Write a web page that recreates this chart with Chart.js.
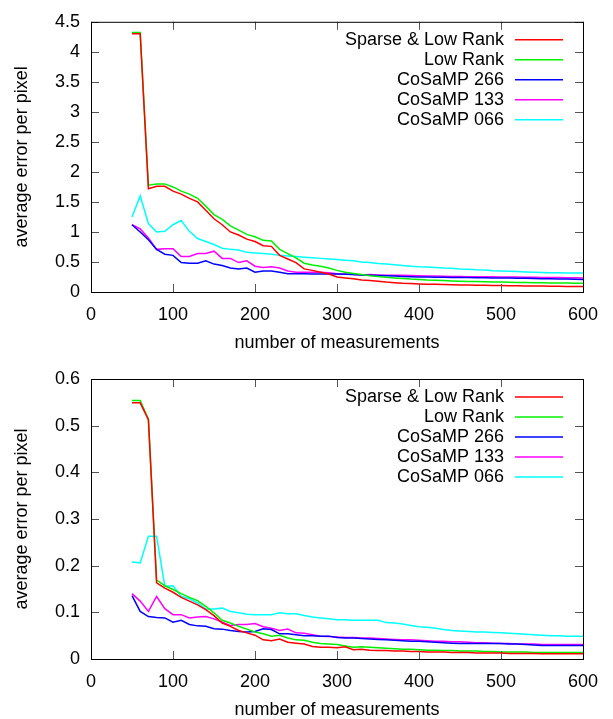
<!DOCTYPE html>
<html>
<head>
<meta charset="utf-8">
<script src="https://cdn.jsdelivr.net/npm/chart.js@4.4.1/dist/chart.umd.min.js"></script>
<style>
  html, body { margin: 0; padding: 0; background: #fff; overflow: hidden; }
  #wrap { position: relative; width: 613px; height: 719px; }
  canvas { position: absolute; left: 0; }
  #errTop { top: 0; }
  #errBottom { top: 354px; }
</style>
</head>
<body>
<div id="wrap">
  <canvas id="errTop" width="613" height="354"></canvas>
  <canvas id="errBottom" width="613" height="367"></canvas>
</div>
<script>
  // number of measurements (x values shared by every series)
  var measurements = [50, 60, 70, 80, 90, 100, 110, 120, 130, 140, 150, 160, 170, 180, 190, 200,
    210, 220, 230, 240, 250, 260, 270, 280, 290, 300, 310, 320, 330, 340, 350, 360, 370, 380, 390, 400,
    410, 420, 430, 440, 450, 460, 470, 480, 490, 500, 510, 520, 530, 540, 550, 560, 570, 580, 590, 600];

  var seriesNames = ['Sparse & Low Rank', 'Low Rank', 'CoSaMP 266', 'CoSaMP 133', 'CoSaMP 066'];
  var seriesColors = ['#ff0000', '#00f000', '#0000ff', '#ff00ff', '#00ffff'];

  var xTicks = [0, 100, 200, 300, 400, 500, 600];
  var yTicksTop = [0, 0.5, 1, 1.5, 2, 2.5, 3, 3.5, 4, 4.5];
  var yTicksBottom = [0, 0.1, 0.2, 0.3, 0.4, 0.5, 0.6];

  // top plot
  var topSparseLowRank = [4.30, 4.30, 1.72, 1.76, 1.76, 1.68, 1.63, 1.56, 1.50, 1.36, 1.22, 1.12, 1.00, 0.95, 0.88, 0.84,
    0.77, 0.76, 0.61, 0.55, 0.49, 0.385, 0.36, 0.33, 0.30, 0.25, 0.235, 0.22, 0.20, 0.19, 0.18, 0.165, 0.155, 0.145, 0.14, 0.134,
    0.13, 0.127, 0.124, 0.12, 0.118, 0.116, 0.114, 0.112, 0.11, 0.108, 0.106, 0.104, 0.102, 0.10, 0.098, 0.096, 0.094, 0.093, 0.092, 0.09];
  var topLowRank = [4.32, 4.32, 1.78, 1.80, 1.80, 1.75, 1.68, 1.63, 1.56, 1.43, 1.29, 1.21, 1.10, 1.03, 0.96, 0.92,
    0.86, 0.85, 0.71, 0.64, 0.57, 0.48, 0.45, 0.43, 0.40, 0.36, 0.33, 0.31, 0.29, 0.27, 0.26, 0.245, 0.235, 0.225, 0.215, 0.21,
    0.20, 0.195, 0.19, 0.185, 0.18, 0.176, 0.173, 0.17, 0.168, 0.165, 0.162, 0.16, 0.157, 0.155, 0.153, 0.151, 0.149, 0.148, 0.146, 0.145];
  var topCosamp266 = [1.12, 1.00, 0.87, 0.71, 0.63, 0.61, 0.49, 0.48, 0.48, 0.52, 0.465, 0.44, 0.40, 0.385, 0.40, 0.33,
    0.35, 0.35, 0.33, 0.305, 0.305, 0.305, 0.30, 0.30, 0.30, 0.30, 0.295, 0.29, 0.285, 0.28, 0.275, 0.27, 0.265, 0.26, 0.255, 0.25,
    0.25, 0.245, 0.245, 0.24, 0.24, 0.24, 0.238, 0.236, 0.235, 0.235, 0.232, 0.23, 0.228, 0.225, 0.222, 0.22, 0.218, 0.215, 0.212, 0.21];
  var topCosamp133 = [1.12, 1.05, 0.90, 0.71, 0.72, 0.72, 0.59, 0.59, 0.64, 0.64, 0.68, 0.56, 0.56, 0.49, 0.52, 0.43,
    0.41, 0.42, 0.40, 0.35, 0.33, 0.33, 0.33, 0.33, 0.32, 0.305, 0.30, 0.29, 0.285, 0.29, 0.285, 0.28, 0.28, 0.278, 0.275, 0.27,
    0.268, 0.265, 0.263, 0.26, 0.258, 0.256, 0.255, 0.253, 0.252, 0.25, 0.249, 0.248, 0.247, 0.245, 0.243, 0.241, 0.24, 0.238, 0.236, 0.235];
  var topCosamp066 = [1.25, 1.60, 1.14, 1.00, 1.01, 1.12, 1.19, 1.01, 0.89, 0.84, 0.79, 0.73, 0.71, 0.70, 0.66, 0.65,
    0.64, 0.63, 0.61, 0.60, 0.59, 0.58, 0.57, 0.56, 0.55, 0.54, 0.53, 0.52, 0.50, 0.49, 0.475, 0.465, 0.455, 0.44, 0.43, 0.42,
    0.415, 0.41, 0.40, 0.395, 0.385, 0.38, 0.37, 0.365, 0.355, 0.35, 0.345, 0.34, 0.335, 0.33, 0.325, 0.322, 0.32, 0.318, 0.316, 0.315];

  // bottom plot
  var botSparseLowRank = [0.549, 0.549, 0.513, 0.163, 0.152, 0.143, 0.132, 0.124, 0.116, 0.106, 0.093, 0.077, 0.070, 0.061, 0.056, 0.051,
    0.041, 0.039, 0.043, 0.036, 0.034, 0.032, 0.027, 0.025, 0.025, 0.024, 0.026, 0.020, 0.021, 0.019, 0.018, 0.018, 0.017, 0.017, 0.016, 0.016,
    0.015, 0.015, 0.015, 0.014, 0.014, 0.014, 0.013, 0.013, 0.013, 0.013, 0.012, 0.012, 0.012, 0.012, 0.011, 0.011, 0.011, 0.011, 0.011, 0.011];
  var botLowRank = [0.554, 0.554, 0.514, 0.169, 0.157, 0.149, 0.140, 0.132, 0.125, 0.113, 0.099, 0.083, 0.077, 0.070, 0.064, 0.058,
    0.054, 0.049, 0.051, 0.045, 0.041, 0.040, 0.036, 0.033, 0.032, 0.031, 0.028, 0.025, 0.026, 0.025, 0.024, 0.023, 0.022, 0.021, 0.021, 0.020,
    0.019, 0.019, 0.018, 0.018, 0.017, 0.017, 0.017, 0.016, 0.016, 0.015, 0.015, 0.015, 0.015, 0.014, 0.014, 0.014, 0.014, 0.014, 0.014, 0.014];
  var botCosamp266 = [0.136, 0.102, 0.091, 0.089, 0.088, 0.079, 0.083, 0.074, 0.071, 0.070, 0.065, 0.064, 0.061, 0.059, 0.058, 0.059,
    0.065, 0.063, 0.054, 0.054, 0.052, 0.050, 0.050, 0.049, 0.049, 0.046, 0.045, 0.045, 0.044, 0.043, 0.042, 0.041, 0.040, 0.039, 0.038, 0.038,
    0.037, 0.036, 0.035, 0.034, 0.033, 0.033, 0.033, 0.033, 0.033, 0.033, 0.032, 0.032, 0.031, 0.030, 0.029, 0.029, 0.029, 0.029, 0.029, 0.029];
  var botCosamp133 = [0.140, 0.124, 0.102, 0.134, 0.108, 0.095, 0.095, 0.088, 0.090, 0.091, 0.086, 0.079, 0.072, 0.074, 0.074, 0.076,
    0.069, 0.066, 0.061, 0.064, 0.056, 0.055, 0.052, 0.049, 0.048, 0.047, 0.046, 0.046, 0.045, 0.045, 0.044, 0.043, 0.042, 0.041, 0.041, 0.040,
    0.039, 0.038, 0.038, 0.037, 0.037, 0.036, 0.035, 0.035, 0.034, 0.033, 0.033, 0.032, 0.032, 0.032, 0.031, 0.031, 0.031, 0.031, 0.031, 0.031];
  var botCosamp066 = [0.208, 0.206, 0.263, 0.263, 0.156, 0.157, 0.134, 0.129, 0.120, 0.107, 0.107, 0.109, 0.102, 0.099, 0.096, 0.095,
    0.095, 0.095, 0.099, 0.097, 0.097, 0.093, 0.090, 0.088, 0.086, 0.084, 0.084, 0.083, 0.083, 0.083, 0.083, 0.078, 0.077, 0.075, 0.072, 0.069,
    0.068, 0.066, 0.063, 0.061, 0.060, 0.059, 0.058, 0.058, 0.057, 0.056, 0.055, 0.054, 0.053, 0.052, 0.051, 0.050, 0.050, 0.049, 0.049, 0.049];

  var FONT = "'Liberation Sans', Arial, Helvetica, sans-serif";

  function points(values) {
    return measurements.map(function (m, i) { return { x: m, y: values[i] }; });
  }

  function fmt(v) {
    return String(Math.round(v * 10) / 10);
  }

  // gnuplot-like frame, inward ticks on all four sides and right aligned key
  var gnuplotFrame = {
    id: 'gnuplotFrame',
    afterDatasetsDraw: function (chart) {
      var ctx = chart.ctx;
      var a = chart.chartArea;
      var xs = chart.scales.x;
      var ys = chart.scales.y;
      var len = 8;
      ctx.save();
      ctx.strokeStyle = '#555';
      ctx.lineWidth = 1;
      ctx.beginPath();
      xs.ticks.forEach(function (t) {
        var px = Math.round(xs.getPixelForValue(t.value)) + 0.5;
        ctx.moveTo(px, a.bottom); ctx.lineTo(px, a.bottom - len);
        ctx.moveTo(px, a.top); ctx.lineTo(px, a.top + len);
      });
      ys.ticks.forEach(function (t) {
        var py = Math.round(ys.getPixelForValue(t.value)) + 0.5;
        ctx.moveTo(a.left, py); ctx.lineTo(a.left + len, py);
        ctx.moveTo(a.right, py); ctx.lineTo(a.right - len, py);
      });
      ctx.stroke();
      ctx.strokeStyle = '#000';
      ctx.strokeRect(a.left + 0.5, a.top + 0.5, a.right - a.left, a.bottom - a.top);

      // key
      ctx.font = '18px ' + FONT;
      ctx.textAlign = 'right';
      ctx.textBaseline = 'middle';
      chart.data.datasets.forEach(function (ds, i) {
        var y = a.top + 18 + 20 * i;
        ctx.fillStyle = '#000';
        ctx.fillText(ds.label, a.right - 79, y);
        ctx.strokeStyle = ds.borderColor;
        ctx.lineWidth = 1.5;
        ctx.beginPath();
        ctx.moveTo(a.right - 68, y);
        ctx.lineTo(a.right - 20, y);
        ctx.stroke();
      });
      ctx.restore();
    }
  };

  function makeChart(canvasId, seriesList, yMax, yTicks, padTop) {
    var datasets = seriesList.map(function (vals, i) {
      return {
        label: seriesNames[i],
        data: points(vals),
        borderColor: seriesColors[i],
        backgroundColor: seriesColors[i],
        borderWidth: 1.5,
        pointRadius: 0,
        tension: 0,
        fill: false
      };
    });

    return new Chart(document.getElementById(canvasId), {
      type: 'line',
      data: { datasets: datasets },
      options: {
        responsive: false,
        animation: false,
        devicePixelRatio: 1,
        layout: { padding: { top: padTop, right: 30, left: 0, bottom: 0 } },
        plugins: {
          legend: { display: false },
          tooltip: { enabled: false }
        },
        scales: {
          x: {
            type: 'linear',
            min: 0,
            max: 600,
            afterBuildTicks: function (scale) {
              scale.ticks = xTicks.map(function (v) { return { value: v }; });
            },
            afterFit: function (scale) { scale.height = 62; },
            grid: { display: false, drawTicks: false },
            border: { display: false },
            ticks: {
              color: '#000',
              padding: 12,
              maxRotation: 0,
              font: { family: FONT, size: 18 }
            },
            title: {
              display: true,
              text: 'number of measurements',
              color: '#000',
              padding: { top: 0, bottom: 0 },
              font: { family: FONT, size: 18 }
            }
          },
          y: {
            type: 'linear',
            min: 0,
            max: yMax,
            afterBuildTicks: function (scale) {
              scale.ticks = yTicks.map(function (v) { return { value: v }; });
            },
            afterFit: function (scale) { scale.width = 91; },
            grid: { display: false, drawTicks: false },
            border: { display: false },
            ticks: {
              color: '#000',
              padding: 11,
              font: { family: FONT, size: 18 },
              callback: function (v) { return fmt(v); }
            },
            title: {
              display: true,
              text: 'average error per pixel',
              color: '#000',
              padding: { top: 11, bottom: 0 },
              font: { family: FONT, size: 18 }
            }
          }
        }
      },
      plugins: [gnuplotFrame]
    });
  }

  makeChart('errTop', [topSparseLowRank, topLowRank, topCosamp266, topCosamp133, topCosamp066], 4.5, yTicksTop, 12);
  makeChart('errBottom', [botSparseLowRank, botLowRank, botCosamp266, botCosamp133, botCosamp066], 0.6, yTicksBottom, 25);
</script>
</body>
</html>
